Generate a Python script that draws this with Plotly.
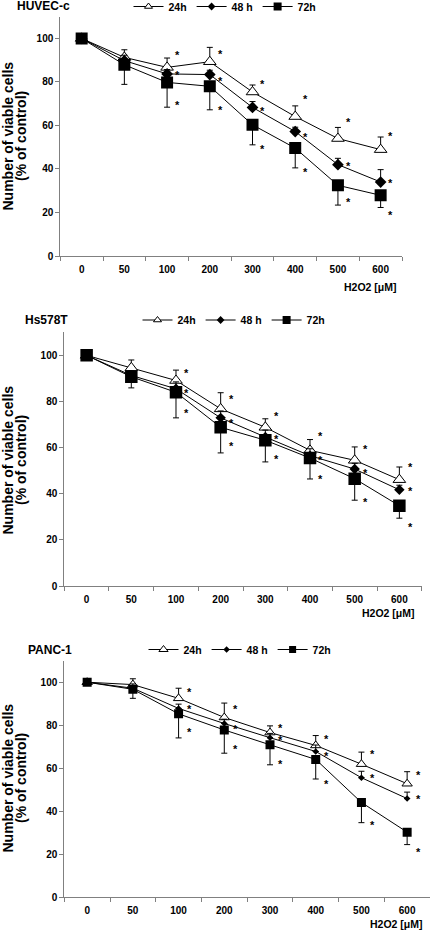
import plotly.graph_objects as go

# ---------------- data ----------------
doses = ["0", "50", "100", "200", "300", "400", "500", "600"]
series_names = ["24h", "48 h", "72h"]
panel_titles = ["HUVEC-c", "Hs578T", "PANC-1"]

huvec_24 = [100, 91.3, 86.7, 89.3, 75.4, 64.1, 54.0, 48.9]
huvec_24_err = [0, 3.5, 4.3, 6.6, 3.2, 4.9, 5.1, 5.8]
huvec_48 = [100, 89.8, 83.7, 83.4, 68.3, 57.2, 42.0, 34.0]
huvec_48_err = [0, 2.5, 2.0, 2.0, 2.7, 2.0, 2.9, 5.7]
huvec_72 = [100, 87.9, 79.8, 78.0, 60.3, 49.6, 32.5, 27.9]
huvec_72_err = [0, 9.0, 11.4, 10.8, 9.2, 9.1, 9.1, 5.6]
huvec_star_24 = [None, None, 93.6, 94.4, 80.6, 73.7, 63.1, 56.5]
huvec_star_48 = [None, None, 84.4, 81.8, 68.1, 55.9, 42.9, 34.8]
huvec_star_72 = [None, None, 70.7, 68.4, 50.5, 40.2, 26.4, 20.0]

hs_24 = [100, 94.6, 89.1, 76.8, 68.8, 58.8, 54.5, 46.1]
hs_24_err = [0, 3.4, 4.5, 7.0, 3.7, 4.7, 5.8, 5.5]
hs_48 = [100, 91.3, 85.5, 72.9, 64.6, 56.5, 50.7, 41.7]
hs_48_err = [0, 2.0, 3.0, 3.0, 3.0, 3.0, 2.5, 2.0]
hs_72 = [100, 90.7, 84.0, 68.8, 63.2, 55.5, 46.5, 34.8]
hs_72_err = [0, 4.8, 11.1, 11.1, 9.4, 9.1, 9.3, 5.4]
hs_star_24 = [None, None, 93.5, 82.3, 74.9, 66.2, 60.6, 53.0]
hs_star_48 = [None, None, 84.9, 71.9, 64.9, 55.9, 50.1, 42.7]
hs_star_72 = [None, None, 76.5, 62.0, 56.5, 47.8, 37.8, 27.0]

panc_24 = [100, 98.9, 92.5, 83.6, 76.6, 70.6, 61.9, 52.8]
panc_24_err = [0, 2.7, 4.7, 6.7, 3.1, 4.6, 5.6, 5.6]
panc_48 = [100, 97.2, 87.8, 80.8, 74.2, 67.8, 55.6, 45.9]
panc_48_err = [0, 2.0, 2.0, 2.0, 2.0, 3.0, 3.0, 3.0]
panc_72 = [100, 96.7, 85.3, 77.8, 70.9, 64.1, 44.1, 30.3]
panc_72_err = [0, 4.2, 11.2, 10.8, 9.3, 9.1, 9.4, 5.8]
panc_star_24 = [None, None, 96.7, 89.0, 80.3, 74.8, 67.8, 58.1]
panc_star_48 = [None, None, 89.0, 79.7, 74.5, 67.0, 56.9, 46.9]
panc_star_72 = [None, None, 78.1, 70.3, 63.3, 54.2, 35.2, 22.5]

y_ticks = [0, 20, 40, 60, 80, 100]

panels = [
    dict(title=panel_titles[0],
         vals=[huvec_24, huvec_48, huvec_72],
         errs=[huvec_24_err, huvec_48_err, huvec_72_err],
         stars=[huvec_star_24, huvec_star_48, huvec_star_72]),
    dict(title=panel_titles[1],
         vals=[hs_24, hs_48, hs_72],
         errs=[hs_24_err, hs_48_err, hs_72_err],
         stars=[hs_star_24, hs_star_48, hs_star_72]),
    dict(title=panel_titles[2],
         vals=[panc_24, panc_48, panc_72],
         errs=[panc_24_err, panc_48_err, panc_72_err],
         stars=[panc_star_24, panc_star_48, panc_star_72]),
]

# ---------------- layout geometry (pixels) ----------------
W, H = 430, 932
def px(x):
    return x / W
def py(y):
    return 1 - y / H

# x-left, x-right, y-top(=110), y-bottom(=0)
boxes = [(60.3, 402.0, 16.7, 256.0),
         (64.3, 421.7, 332.3, 586.0),
         (64.3, 430.0, 660.7, 897.3)]
title_pos = [(15, 6.5), (23, 320), (26, 650)]
legend_pos = [(225, 6.5), (234, 320), (240, 649.5)]
xlabel_pos = [(370, 287), (388.5, 613), (396, 924)]
ylabel_center = [136, 460, 778]

marker_sizes = [(11, 9, 12), (11, 8, 12.5), (9, 5, 9)]
legend_marker_sizes = [(7, 6, 8), (7, 6, 8), (8, 5, 7)]

BOLD = dict(family="Liberation Sans, Arial, sans-serif", weight="bold", color="black")
AXC = "#808080"

fig = go.Figure()
annotations = []
xs = list(range(len(doses)))

def style(s, sizes):
    if s == 0:
        return dict(symbol="triangle-up", color="white", size=sizes[0], line=dict(color="black", width=1))
    if s == 1:
        return dict(symbol="diamond", color="black", size=sizes[1], line=dict(color="black", width=0))
    return dict(symbol="square", color="black", size=sizes[2], line=dict(color="black", width=0))

for p, panel in enumerate(panels):
    ax = "" if p == 0 else str(p + 1)
    xref, yref = "x" + ax, "y" + ax
    leg = "legend" if p == 0 else "legend" + str(p + 1)
    for s in range(3):
        err = panel["errs"][s]
        zeros = [0] * len(err)
        if s == 2:
            ey = dict(type="data", symmetric=False, array=zeros, arrayminus=err,
                      color="black", thickness=1, width=3)
        else:
            ey = dict(type="data", symmetric=False, array=err, arrayminus=zeros,
                      color="black", thickness=1, width=3)
        fig.add_trace(go.Scatter(
            x=xs, y=panel["vals"][s], mode="lines+markers", name=series_names[s],
            line=dict(color="black", width=1), marker=style(s, marker_sizes[p]), error_y=ey,
            xaxis=xref, yaxis=yref, showlegend=False,
        ))
        # legend-only entry with smaller symbol, as in the original legend
        fig.add_trace(go.Scatter(
            x=[None], y=[None], mode="lines+markers", name=series_names[s],
            line=dict(color="black", width=1), marker=style(s, legend_marker_sizes[p]),
            xaxis=xref, yaxis=yref, legend=leg, showlegend=True,
        ))
        for i, sv in enumerate(panel["stars"][s]):
            if sv is None:
                continue
            annotations.append(dict(
                x=xs[i] + 0.24, y=sv, xref=xref, yref=yref, text="*", showarrow=False,
                font=dict(size=11, **BOLD), yshift=-3,
            ))

    x0, x1, yt, yb = boxes[p]
    fig.layout["xaxis" + ax] = dict(
        domain=[px(x0), min(px(x1), 1.0)], anchor=yref, range=[-0.5, 7.5],
        tickmode="array", tickvals=xs, ticktext=doses, ticks="",
        minor=dict(tickmode="linear", tick0=-0.5, dtick=1, ticks="outside",
                   ticklen=4, tickcolor=AXC, tickwidth=1, showgrid=False),
        showline=True, linecolor=AXC, linewidth=1, showgrid=False, zeroline=False,
        tickfont=dict(size=10, **BOLD), ticklabelstandoff=4, automargin=False,
    )
    fig.layout["yaxis" + ax] = dict(
        domain=[py(yb), py(yt)], anchor=xref, range=[0, 110],
        tickmode="array", tickvals=y_ticks, ticks="outside", ticklen=4,
        tickcolor=AXC, showline=True, linecolor=AXC, linewidth=1,
        showgrid=False, zeroline=False, tickfont=dict(size=10, **BOLD), automargin=False,
    )
    lx, ly = legend_pos[p]
    fig.layout[leg] = dict(
        orientation="h", x=px(lx), y=py(ly), xanchor="center", yanchor="middle",
        xref="paper", yref="paper", bgcolor="rgba(0,0,0,0)", borderwidth=0,
        font=dict(size=10.5, **BOLD), itemwidth=30, tracegroupgap=0,
    )
    tx, ty = title_pos[p]
    annotations.append(dict(x=px(tx), y=py(ty), xref="paper", yref="paper",
                            xanchor="left", yanchor="middle", showarrow=False,
                            text=panel["title"], font=dict(size=12, **BOLD)))
    hx, hy = xlabel_pos[p]
    annotations.append(dict(x=px(hx), y=py(hy), xref="paper", yref="paper",
                            xanchor="center", yanchor="middle", showarrow=False,
                            text="H2O2 [μM]", font=dict(size=10.5, **BOLD)))
    yc = ylabel_center[p]
    annotations.append(dict(x=px(7.5), y=py(yc), xref="paper", yref="paper",
                            xanchor="center", yanchor="middle", showarrow=False,
                            textangle=-90, text="Number of viable cells",
                            font=dict(size=14, **BOLD)))
    annotations.append(dict(x=px(21), y=py(yc), xref="paper", yref="paper",
                            xanchor="center", yanchor="middle", showarrow=False,
                            textangle=-90, text="(% of control)",
                            font=dict(size=14, **BOLD)))

fig.update_layout(
    width=W, height=H, margin=dict(l=0, r=0, t=0, b=0, pad=0, autoexpand=False),
    paper_bgcolor="white", plot_bgcolor="white",
    annotations=annotations,
    font=dict(family="Liberation Sans, Arial, sans-serif", color="black"),
)

fig.write_html("out.html", config={"displayModeBar": False},
               post_script="document.body.style.margin='0px';document.body.style.overflow='hidden';")
